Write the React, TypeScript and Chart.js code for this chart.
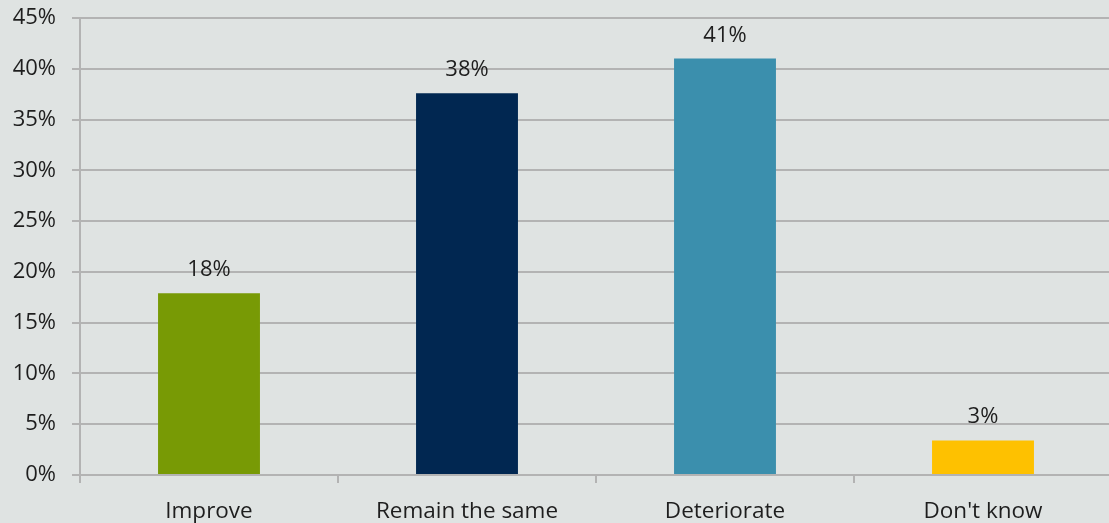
import React, { useEffect, useRef } from "react";
import { Chart, registerables } from "chart.js";

Chart.register(...registerables);

const categories = ["Improve", "Remain the same", "Deteriorate", "Don't know"];
const values = [17.9, 37.6, 41.0, 3.4];
const valueLabels = ["18%", "38%", "41%", "3%"];
const barColors = ["#789a05", "#012751", "#3b8fad", "#fec100"];
const FONT = "'Open Sans', sans-serif";

const labelPlugin = {
  id: "valueLabels",
  afterDatasetsDraw(chart: any) {
    const ctx = chart.ctx;
    const meta = chart.getDatasetMeta(0);
    ctx.save();
    ctx.font = `22px ${FONT}`;
    ctx.fillStyle = "#1e1e1e";
    ctx.textAlign = "center";
    ctx.textBaseline = "alphabetic";
    meta.data.forEach((bar: any, i: number) => {
      ctx.fillText(valueLabels[i], bar.x, bar.y - 17);
    });
    ctx.restore();
  },
};

export default function App() {
  const ref = useRef<HTMLCanvasElement>(null);
  useEffect(() => {
    if (!ref.current) return;
    const chart = new Chart(ref.current, {
      type: "bar",
      data: {
        labels: categories,
        datasets: [
          {
            data: values,
            backgroundColor: barColors,
            categoryPercentage: 0.79,
            barPercentage: 0.5,
          },
        ],
      },
      options: {
        animation: false,
        responsive: false,
        maintainAspectRatio: false,
        layout: { padding: { top: 18, left: 0, right: 0, bottom: 0 } },
        plugins: { legend: { display: false }, tooltip: { enabled: false } },
        scales: {
          x: {
            grid: {
              offset: true,
              drawOnChartArea: false,
              drawTicks: true,
              tickLength: 8,
              color: "#b3b3b3",
              lineWidth: 2,
            },
            border: { color: "#b3b3b3", width: 2 },
            ticks: {
              color: "#1e1e1e",
              font: { family: FONT, size: 22.5 },
              padding: 15,
              maxRotation: 0,
            },
            afterFit: (s: any) => {
              s.height = 48;
              s.paddingLeft = 0;
              s.paddingRight = 0;
            },
          },
          y: {
            min: 0,
            max: 45,
            ticks: {
              stepSize: 5,
              color: "#1e1e1e",
              font: { family: FONT, size: 22 },
              padding: 16,
              callback: (v: any) => `${v}%`,
            },
            grid: { color: "#b3b3b3", lineWidth: 2, tickLength: 8 },
            border: { color: "#b3b3b3", width: 2 },
            afterFit: (s: any) => {
              s.width = 80;
              s.paddingTop = 0;
              s.paddingBottom = 0;
            },
          },
        },
      },
      plugins: [labelPlugin],
    });
    return () => chart.destroy();
  }, []);
  return (
    <div
      style={{
        position: "fixed",
        left: 0,
        top: 0,
        width: 1109,
        height: 523,
        overflow: "hidden",
        background: "#dfe3e2",
      }}
    >
      <canvas ref={ref} width={1112} height={523} style={{ display: "block" }} />
    </div>
  );
}
